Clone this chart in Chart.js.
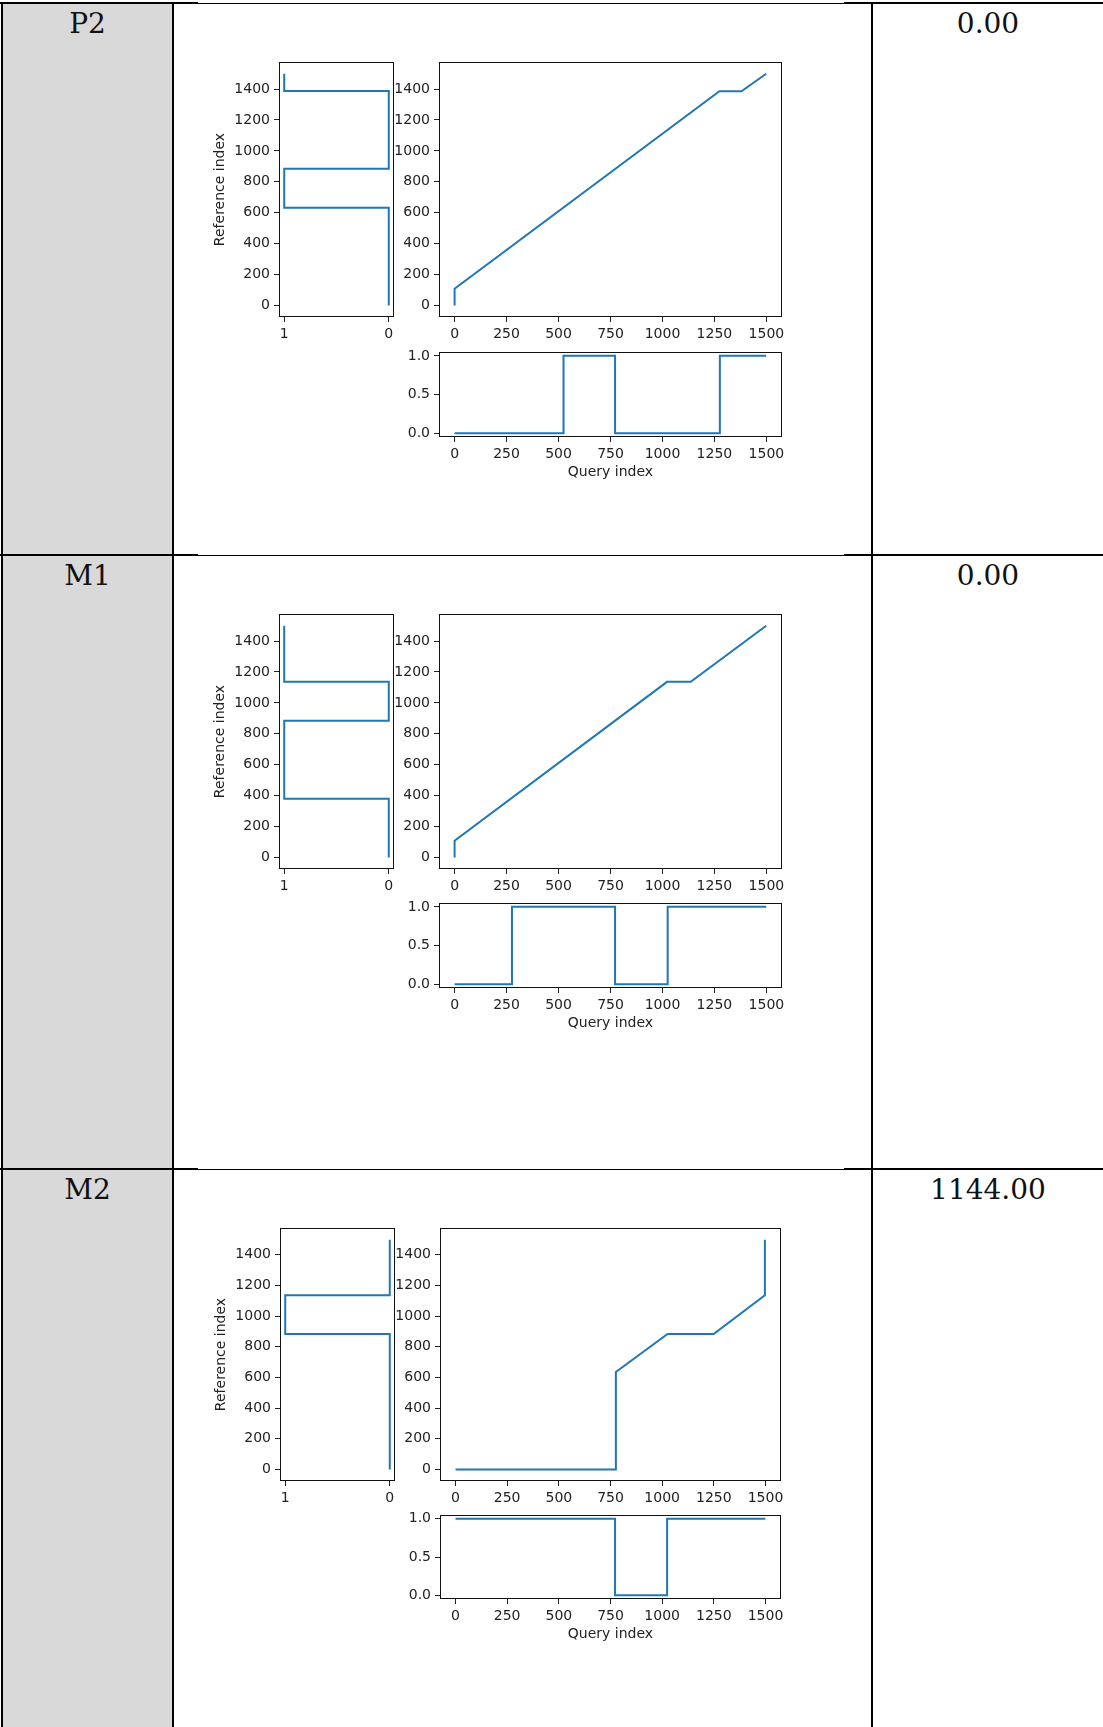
<!DOCTYPE html>
<html>
<head>
<meta charset="utf-8">
<title>Alignment paths</title>
<script src="https://cdn.jsdelivr.net/npm/chart.js@4.4.1/dist/chart.umd.min.js"></script>
<style>
  html, body { margin: 0; padding: 0; background: #fff; }
  body { width: 1103px; height: 1727px; position: relative; overflow: hidden; }
  .grey { position: absolute; left: 3px; top: 3px; width: 169px; height: 1724px; background: #d9d9d9; }
  .ln { position: absolute; background: #000; }
  .txt { position: absolute; font-family: 'DejaVu Serif', serif; font-size: 28px; line-height: 28px;
         text-align: center; color: #111; white-space: nowrap; }
  canvas { position: absolute; }
</style>
</head>
<body>
<div class="grey"></div>
<script>
// Ejes comunes
const queryTicks = [0, 250, 500, 750, 1000, 1250, 1500];
const refTicks = [0, 200, 400, 600, 800, 1000, 1200, 1400];
const maskTicks = [0, 1];
const matchTicks = [0, 0.5, 1];

// Filas de la tabla
const rowLabels = ['P2', 'M1', 'M2'];
const rowScores = ['0.00', '0.00', '1144.00'];

// P2
const p2PathQuery = [0, 0, 1274, 1380, 1499];
const p2PathRef = [0, 108, 1386, 1386, 1499];
const p2RefIdx = [0, 632, 884, 1388, 1499];
const p2RefVal = [0, 1, 0, 1, 1];
const p2QueryIdx = [0, 524, 772, 1276, 1499];
const p2QueryVal = [0, 1, 0, 1, 1];

// M1
const m1PathQuery = [0, 0, 1022, 1136, 1499];
const m1PathRef = [0, 108, 1136, 1136, 1499];
const m1RefIdx = [0, 380, 884, 1136, 1499];
const m1RefVal = [0, 1, 0, 1, 1];
const m1QueryIdx = [0, 276, 772, 1025, 1499];
const m1QueryVal = [0, 1, 0, 1, 1];

// M2
const m2PathQuery = [0, 776, 776, 1026, 1249, 1497, 1497];
const m2PathRef = [0, 0, 636, 884, 884, 1136, 1499];
const m2RefIdx = [0, 884, 1136, 1499];
const m2RefVal = [0, 1, 0, 0];
const m2QueryIdx = [0, 772, 1024, 1499];
const m2QueryVal = [1, 0, 1, 1];

const rows = [
  { path: [p2PathQuery, p2PathRef], ref: [p2RefVal, p2RefIdx], query: [p2QueryIdx, p2QueryVal] },
  { path: [m1PathQuery, m1PathRef], ref: [m1RefVal, m1RefIdx], query: [m1QueryIdx, m1QueryVal] },
  { path: [m2PathQuery, m2PathRef], ref: [m2RefVal, m2RefIdx], query: [m2QueryIdx, m2QueryVal] }
];

// Posiciones (cajas de los ejes en px)
const rowLineY = [3, 555, 1169];
const rowTextTop = [10, 562, 1176];
const boxes = [
  { left: { l: 279, t: 62, w: 115, h: 255 },  main: { l: 439, t: 62, w: 343, h: 255 },  bottom: { l: 439, t: 352, w: 343, h: 85 } },
  { left: { l: 279, t: 614, w: 115, h: 255 }, main: { l: 439, t: 614, w: 343, h: 255 }, bottom: { l: 439, t: 903, w: 343, h: 85 } },
  { left: { l: 280, t: 1228, w: 115, h: 253 }, main: { l: 440, t: 1228, w: 341, h: 253 }, bottom: { l: 440, t: 1515, w: 341, h: 84 } }
];

const LINE = '#1f77b4';
const TXT = '#222';
const FONT_SIZE = 14;
Chart.defaults.font.family = "'DejaVu Sans', sans-serif";

// Tabla
function addDiv(cls, css, text) {
  const d = document.createElement('div');
  d.className = cls;
  Object.assign(d.style, css);
  if (text) d.textContent = text;
  document.body.appendChild(d);
  return d;
}

rowLineY.forEach((y, i) => {
  addDiv('ln', { left: '0px', top: (y - 1) + 'px', width: '198px', height: '2px' });
  addDiv('ln', { left: '198px', top: y + 'px', width: '646px', height: '1px' });
  addDiv('ln', { left: '844px', top: (y - 1) + 'px', width: '259px', height: '2px' });
  addDiv('txt', { left: '3px', width: '169px', top: rowTextTop[i] + 'px' }, rowLabels[i]);
  addDiv('txt', { left: '873px', width: '230px', top: rowTextTop[i] + 'px' }, rowScores[i]);
});
[1, 172, 871].forEach(x => addDiv('ln', { left: x + 'px', top: '2px', width: '2px', height: '1725px' }));

// Marco de los ejes (estilo matplotlib)
const framePlugin = {
  id: 'frame',
  afterDraw(chart) {
    const { ctx, chartArea: a } = chart;
    ctx.save();
    ctx.strokeStyle = '#111';
    ctx.lineWidth = 1;
    ctx.strokeRect(a.left + 0.5, a.top + 0.5, a.right - a.left - 1, a.bottom - a.top - 1);
    ctx.restore();
  }
};

function axis(ticks, min, max, size, fmt, extra) {
  return Object.assign({
    type: 'linear',
    min: min,
    max: max,
    afterBuildTicks: s => { s.ticks = ticks.map(v => ({ value: v })); },
    afterFit: s => { if (s.isHorizontal()) s.height = size; else s.width = size; },
    border: { display: false },
    grid: { display: true, drawOnChartArea: false, drawTicks: true, tickLength: 5, tickColor: TXT, tickWidth: 1 },
    ticks: { autoSkip: false, maxRotation: 0, padding: 4, color: TXT, font: { size: FONT_SIZE }, callback: fmt }
  }, extra || {});
}

function title(text) {
  return { title: { display: true, text: text, color: TXT, font: { size: FONT_SIZE }, padding: 0 } };
}

const intFmt = v => String(v);
const oneDec = v => v.toFixed(1);

function makePanel(box, m, xs, ys, stepped, xAxis, yAxis) {
  const c = document.createElement('canvas');
  const w = m.yW + box.w + m.padR;
  const h = m.padT + box.h + m.xH;
  c.width = w; c.height = h;
  c.style.left = (box.l - m.yW) + 'px';
  c.style.top = (box.t - m.padT) + 'px';
  c.style.width = w + 'px';
  c.style.height = h + 'px';
  document.body.appendChild(c);

  return new Chart(c, {
    type: 'scatter',
    data: {
      datasets: [{
        data: xs.map((x, i) => ({ x: x, y: ys[i] })),
        showLine: true,
        stepped: stepped,
        borderColor: LINE,
        borderWidth: 2,
        pointRadius: 0,
        fill: false
      }]
    },
    options: {
      responsive: false,
      animation: false,
      devicePixelRatio: 1,
      layout: { padding: { top: m.padT, right: m.padR, left: 0, bottom: 0 } },
      plugins: { legend: { display: false }, tooltip: { enabled: false } },
      scales: { x: xAxis, y: yAxis }
    },
    plugins: [framePlugin]
  });
}

rows.forEach((r, i) => {
  const b = boxes[i];
  const leftM = { yW: 67, padT: 16, padR: 20, xH: 26 };
  const mainM = { yW: 52, padT: 16, padR: 20, xH: 26 };
  const botM = { yW: 52, padT: 16, padR: 20, xH: 44 };

  // Máscara de referencia (vertical)
  makePanel(b.left, leftM, r.ref[0], r.ref[1], 'after',
    axis(maskTicks, -0.05, 1.05, leftM.xH, intFmt, { reverse: true }),
    axis(refTicks, -75, 1575, leftM.yW, intFmt, title('Reference index')));

  // Camino de alineamiento
  makePanel(b.main, mainM, r.path[0], r.path[1], false,
    axis(queryTicks, -75, 1575, mainM.xH, intFmt),
    axis(refTicks, -75, 1575, mainM.yW, intFmt));

  // Máscara de consulta
  makePanel(b.bottom, botM, r.query[0], r.query[1], true,
    axis(queryTicks, -75, 1575, botM.xH, intFmt, title('Query index')),
    axis(matchTicks, -0.05, 1.05, botM.yW, oneDec));
});
</script>
</body>
</html>
